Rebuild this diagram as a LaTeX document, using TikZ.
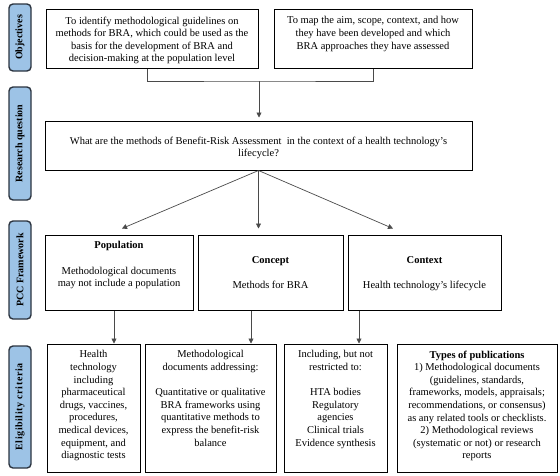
\documentclass[tikz,border=0pt]{standalone}
\usepackage{fontspec}
\setmainfont{Liberation Serif}
\usetikzlibrary{arrows.meta,calc}
\definecolor{tabblue}{HTML}{9DC3E6}
\definecolor{tabline}{HTML}{2B3440}
\definecolor{connc}{HTML}{4A4A4A}
\begin{document}
\begin{tikzpicture}[x=1pt,y=-1pt,
  tabbox/.style={draw=tabline, line width=1.4pt, fill=tabblue, rounded corners=4pt,
    rotate=90, minimum height=22pt, inner sep=0pt,
    font=\fontsize{10}{12}\selectfont\bfseries},
  box/.style={draw=black, line width=1pt, inner sep=0pt},
  txt/.style={align=center, inner sep=0pt, anchor=north,
    font=\fontsize{10.5}{12.6}\selectfont},
  conn/.style={draw=connc, line width=0.7pt},
  arr/.style={conn, -{Triangle[width=5pt,length=5pt]}}]
\useasboundingbox (0,0) rectangle (560,475);
% side tabs
\node[tabbox, minimum width=67pt] (t1) at (20,37.5) {Objectives};
\node[tabbox, minimum width=113pt] (t2) at (20,143.5) {Research question};
\node[tabbox, minimum width=98pt] (t3) at (20,270) {PCC Framework};
\node[tabbox, minimum width=122pt] (t4) at (20,407) {\addfontfeature{LetterSpace=6}Eligibility criteria};
% objectives
\node[box, minimum width=212pt, minimum height=59pt] (o1) at (152,38.5) {};
\node[box, minimum width=198pt, minimum height=59pt] (o2) at (373,38.5) {};
\node[txt] (o1t) at (152,16.5) {To identify methodological guidelines on\\methods for BRA, which could be used as the\\basis for the development of BRA and\\decision-making at the population level};
\node[txt] (o2t) at (373,16.5) {To map the aim, scope, context, and how\\they have been developed and which\\BRA approaches they have assessed};
% research question
\node[box, minimum width=427pt, minimum height=49pt] (rq) at (258.5,145.5) {};
\node[txt] (rqt) at (258.5,136.5) {What are the methods of Benefit-Risk Assessment\ \ in the context of a health technology’s\\lifecycle?};
% PCC
\node[box, minimum width=148pt, minimum height=75pt] (pop) at (119,272.5) {};
\node[box, minimum width=145pt, minimum height=75pt] (con) at (270.5,272.5) {};
\node[box, minimum width=153pt, minimum height=75pt] (ctx) at (424.5,272.5) {};
\node[txt] (popt) at (119,241.5) {\textbf{Population}\\[12.6pt]Methodological documents\\may not include a population};
\node[txt] (cont) at (270.5,256.5) {\textbf{Concept}\\[12.6pt]Methods for BRA};
\node[txt] (ctxt) at (424.5,256.5) {\textbf{Context}\\[12.6pt]Health technology’s lifecycle};
% eligibility
\node[box, minimum width=93pt, minimum height=128pt] (e1) at (93.5,408) {};
\node[box, minimum width=131pt, minimum height=128pt] (e2) at (210.5,408) {};
\node[box, minimum width=103pt, minimum height=128pt] (e3) at (335.5,408) {};
\node[box, minimum width=160pt, minimum height=128pt] (e4) at (477,408) {};
\node[txt] (e1t) at (93.5,350.5) {Health\\technology\\including\\pharmaceutical\\drugs, vaccines,\\procedures,\\medical devices,\\equipment, and\\diagnostic tests};
\node[txt] (e2t) at (210.5,350.5) {Methodological\\documents addressing:\\[12.6pt]Quantitative or qualitative\\BRA frameworks using\\quantitative methods to\\express the benefit-risk\\balance};
\node[txt] (e3t) at (335.5,350.5) {Including, but not\\restricted to:\\[12.6pt]HTA bodies\\Regulatory\\agencies\\Clinical trials\\Evidence synthesis};
\node[txt] (e4t) at (477,350.5) {\textbf{Types of publications}\\1) Methodological documents\\(guidelines, standards,\\frameworks, models, appraisals;\\recommendations, or consensus)\\as any related tools or checklists.\\2) Methodological reviews\\(systematic or not) or research\\reports};
% connectors
\coordinate (j) at (259,81);
\draw[conn] (o1.south -| 147,0) |- (j) -| (o2.south);
\draw[arr] (j) -- ($(rq.north)+(0.5,-3)$);
\draw[arr] (rq.south) -- ($(pop.north)+(3,-6)$);
\draw[arr] (rq.south) -- ($(con.north -| rq.south)+(0,-6)$);
\draw[arr] (rq.south) -- ($(ctx.north)+(-31.5,-6)$);
\draw[arr] (pop.south -| 114,0) -- (e1.north -| 114,0);
\draw[arr] (con.south -| 251,0) -- (e2.north -| 251,0);
\draw[arr] (ctx.south -| 359,0) -- (e3.north -| 359,0);
\end{tikzpicture}
\end{document}
